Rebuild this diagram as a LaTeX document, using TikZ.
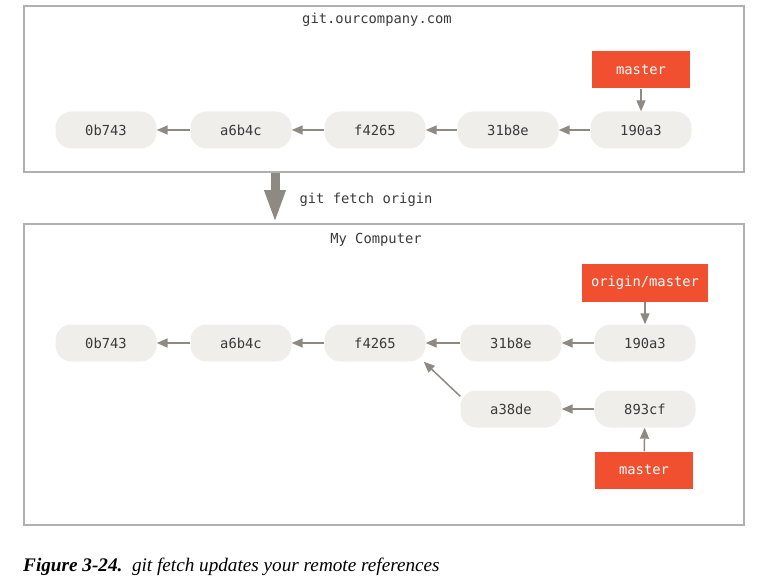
\documentclass[tikz,border=0pt]{standalone}
\usepackage{fontspec}
\setmainfont{Liberation Serif}
\setmonofont{DejaVu Sans Mono}
\usetikzlibrary{arrows.meta}
\usetikzlibrary{positioning}
\definecolor{gitred}{HTML}{F0502F}
\definecolor{commitfill}{HTML}{EFEEEA}
\definecolor{arrowgray}{HTML}{8E8A83}
\definecolor{framegray}{HTML}{B0B0B0}
\definecolor{textgray}{HTML}{3A3A3A}
\tikzset{x=1pt, y=1pt,
commit/.style={ % Sets the properties for each commit
rectangle, rounded corners=16pt,
fill=commitfill, text=textgray,
minimum width=101pt, minimum height=37pt,
font=\ttfamily\fontsize{13.8}{16}\selectfont},
branch/.style={ % Red branch labels
rectangle, fill=gitred, text=white,
minimum width=98pt, minimum height=37pt, inner sep=9pt,
font=\ttfamily\fontsize{13.8}{16}\selectfont},
frame/.style={draw=framegray, line width=1.5pt},
title/.style={text=textgray, font=\ttfamily\fontsize{13.8}{16}\selectfont},
fetch/.style={draw=arrowgray, line width=9pt,
-{Triangle[length=33pt, width=19pt]}},
every edge/.style={ % Sets the properties for each parent link
draw=arrowgray, line width=1.5pt,
-{Triangle[length=11pt, width=9pt]}}}

\begin{document}
\begin{tikzpicture}
	\useasboundingbox (0,0) rectangle (764,-583);
	% server
	\node[frame, minimum width=720pt, minimum height=166pt] (server) at (384,-89) {};
	\node[title] (stitle) at (377,-20) {git.ourcompany.com};
	\node[commit] (s0) at (106,-130) {0b743};
	\node[commit] (s1) at (241,-130) {a6b4c};
	\node[commit] (s2) at (375,-130) {f4265};
	\node[commit] (s3) at (508,-130) {31b8e};
	\node[commit] (s4) at (641,-130) {190a3};
	\node[branch] (smaster) at (641,-70) {master};
	\draw (s1) edge (s0);
	\draw (s2) edge (s1);
	\draw (s3) edge (s2);
	\draw (s4) edge (s3);
	\draw (smaster) edge (s4);
	% my computer
	\node[frame, minimum width=720pt, minimum height=301pt] (local) at (384,-374.5) {};
	\node[title] (ltitle) at (376,-240) {My Computer};
	\node[commit] (m0) at (106,-343) {0b743};
	\node[commit] (m1) at (241,-343) {a6b4c};
	\node[commit] (m2) at (375,-343) {f4265};
	\node[commit] (m3) at (511,-343) {31b8e};
	\node[commit] (m4) at (645,-343) {190a3};
	\node[commit] (m5) at (511,-409) {a38de};
	\node[commit] (m6) at (645,-409) {893cf};
	\node[branch] (omaster) at (645,-283) {origin/master};
	\node[branch] (lmaster) at (644,-470) {master};
	\draw (m1) edge (m0);
	\draw (m2) edge (m1);
	\draw (m3) edge (m2);
	\draw (m4) edge (m3);
	\draw (m6) edge (m5);
	\draw (m5.166) edge (m2.-21);
	\draw (omaster) edge (m4);
	\draw (lmaster) edge (m6);
	% fetch
	\coordinate (fetchx) at (275,0);
	\draw[fetch] (server.south -| fetchx) -- (local.north -| fetchx);
	\node[title, anchor=west] (fetchlabel) at (296,-200) {git fetch origin};
	% caption
	\node[anchor=base west, inner sep=0pt, font=\fontsize{19.2}{21}\selectfont\itshape] (caption) at (23,-571)
		{\textbf{Figure 3-24.}\enspace git fetch updates your remote references};
\end{tikzpicture}
\end{document}
